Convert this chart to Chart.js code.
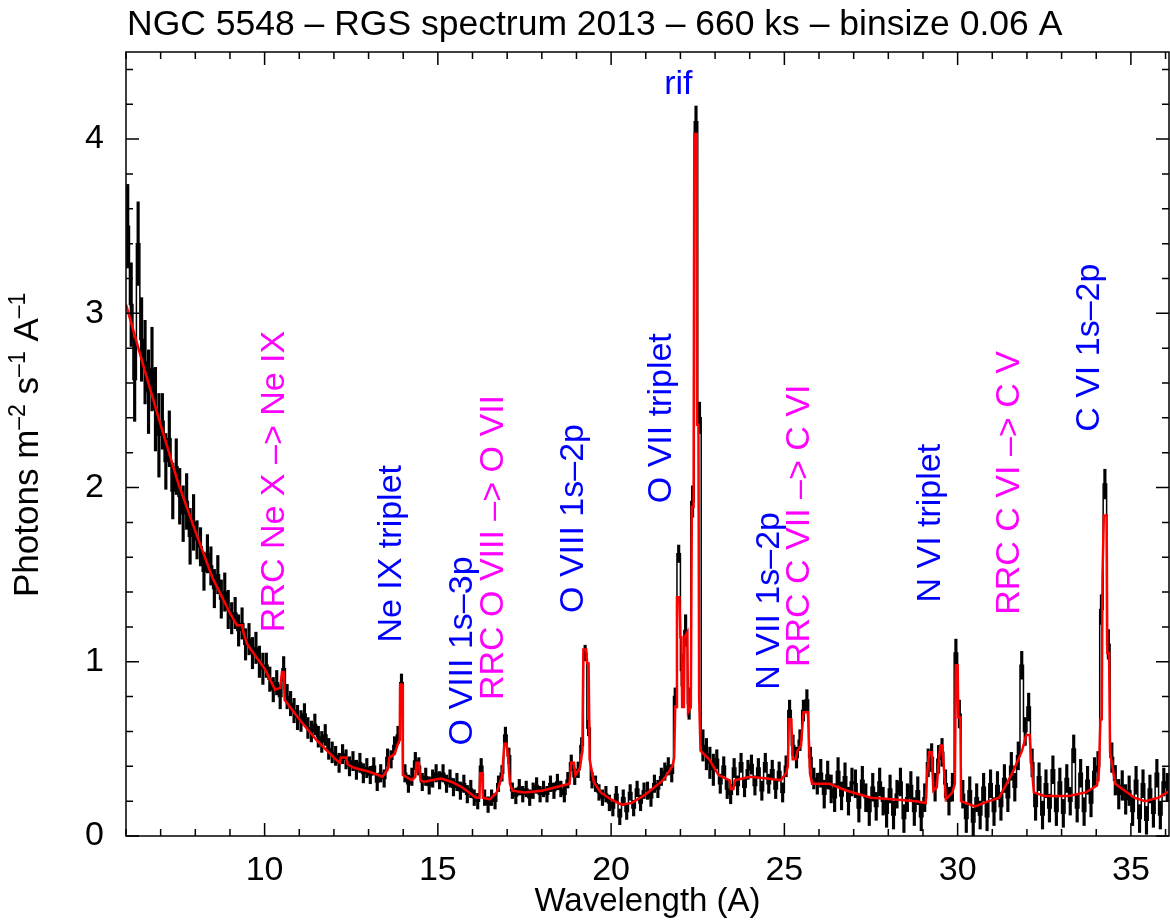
<!DOCTYPE html>
<html>
<head>
<meta charset="utf-8">
<script src="https://cdn.jsdelivr.net/npm/chart.js@4.4.1/dist/chart.umd.min.js"></script>
<style>
  html, body { margin: 0; padding: 0; background: #fff; }
</style>
</head>
<body>
<canvas id="myChart" width="1170" height="922"></canvas>
<script>
// measured spectrum, 0.1 A bins starting at 6.0 A (one row per Angstrom)
var binLo = 6.0;
var binStep = 0.1;
var flux = [
  3.50, 3.05, 2.62, 3.40, 2.85, 2.72, 2.55, 2.68, 2.45, 2.30,
  2.38, 2.15, 2.28, 1.98, 2.12, 1.95, 1.85, 1.92, 1.72, 1.80,
  1.70, 1.66, 1.52, 1.62, 1.55, 1.42, 1.50, 1.36, 1.40, 1.30,
  1.25, 1.28, 1.18, 1.22, 1.10, 1.13, 1.05, 1.08, 1.00, 0.96,
  0.98, 0.90, 0.84, 0.88, 0.80, 0.96, 0.80, 0.76, 0.72, 0.68,
  0.66, 0.70, 0.62, 0.60, 0.64, 0.57, 0.54, 0.58, 0.50, 0.48,
  0.46, 0.42, 0.47, 0.44, 0.40, 0.43, 0.38, 0.42, 0.36, 0.39,
  0.35, 0.40, 0.31, 0.36, 0.33, 0.45, 0.44, 0.52, 0.58, 0.88,
  0.36, 0.30, 0.34, 0.43, 0.40, 0.31, 0.34, 0.29, 0.33, 0.36,
  0.32, 0.36, 0.30, 0.33, 0.28, 0.31, 0.26, 0.30, 0.24, 0.27,
  0.22, 0.20, 0.40, 0.22, 0.18, 0.22, 0.20, 0.30, 0.36, 0.58,
  0.46, 0.26, 0.23, 0.28, 0.24, 0.27, 0.22, 0.26, 0.29, 0.24,
  0.27, 0.24, 0.30, 0.26, 0.31, 0.27, 0.24, 0.32, 0.42, 0.34,
  0.38, 0.52, 1.05, 0.62, 0.32, 0.30, 0.25, 0.22, 0.24, 0.19,
  0.16, 0.24, 0.11, 0.22, 0.14, 0.25, 0.16, 0.27, 0.19, 0.26,
  0.26, 0.22, 0.30, 0.27, 0.34, 0.37, 0.40, 0.36, 0.80, 1.62,
  0.95, 1.18, 0.76, 1.92, 4.10, 2.40, 0.52, 0.47, 0.42, 0.38,
  0.44, 0.30, 0.40, 0.27, 0.24, 0.39, 0.29, 0.42, 0.28, 0.38,
  0.41, 0.29, 0.39, 0.26, 0.42, 0.30, 0.38, 0.27, 0.37, 0.25,
  0.40, 0.72, 0.52, 0.45, 0.55, 0.72, 0.78, 0.45, 0.33, 0.30,
  0.36, 0.24, 0.35, 0.27, 0.22, 0.37, 0.23, 0.34, 0.20, 0.31,
  0.30, 0.16, 0.32, 0.22, 0.14, 0.28, 0.17, 0.31, 0.20, 0.13,
  0.27, 0.12, 0.24, 0.31, 0.10, 0.22, 0.29, 0.14, 0.26, 0.11,
  0.22, 0.42, 0.45, 0.28, 0.44, 0.48, 0.30, 0.20, 0.28, 1.05,
  0.70, 0.24, 0.10, 0.26, 0.08, 0.22, 0.12, 0.28, 0.11, 0.30,
  0.14, 0.29, 0.17, 0.33, 0.22, 0.40, 0.28, 0.46, 0.98, 0.60,
  0.74, 0.42, 0.17, 0.34, 0.12, 0.30, 0.16, 0.38, 0.14, 0.31,
  0.13, 0.33, 0.20, 0.50, 0.16, 0.36, 0.14, 0.32, 0.19, 0.37,
  0.40, 1.30, 2.02, 1.10, 0.45, 0.32, 0.24, 0.29, 0.21, 0.26,
  0.14, 0.32, 0.10, 0.30, 0.09, 0.27, 0.13, 0.36, 0.12, 0.31,
  0.28
];
// error bar half size for each 1 A row
var fluxErr = [0.24, 0.16, 0.11, 0.09, 0.07, 0.06, 0.055, 0.05, 0.05, 0.05,
               0.045, 0.045, 0.045, 0.045, 0.045, 0.05, 0.09, 0.055, 0.055, 0.06,
               0.08, 0.08, 0.08, 0.08, 0.08, 0.08, 0.08, 0.08, 0.085, 0.08, 0.08];

// fitted model (red)
var modelX = [6.0, 6.5, 7.0, 7.5, 8.0, 8.5, 9.0, 9.2, 9.35, 9.4, 9.5, 10.0, 10.3, 10.45, 10.5, 10.55, 10.58,
  11.0, 11.5, 12.0, 12.17, 12.2, 12.35, 12.4, 12.6, 13.0, 13.4, 13.55, 13.6, 13.75, 13.85, 13.9, 13.91, 13.97, 13.99,
  14.25, 14.35, 14.38, 14.45, 14.5, 14.6, 14.8, 15.1, 15.4, 15.7, 16.1, 16.2, 16.22, 16.28, 16.3, 16.5, 16.7, 16.85,
  16.92, 16.98, 17.02, 17.08, 17.15, 17.5, 18.0, 18.4, 18.8, 18.85, 18.93, 18.97, 19.1, 19.17, 19.2, 19.28, 19.31,
  19.35, 19.38, 19.5, 19.7, 20.0, 20.3, 20.6, 21.0, 21.5, 21.77, 21.82, 21.85, 21.88, 21.9, 21.97, 22.0, 22.03,
  22.05, 22.1, 22.12, 22.2, 22.22, 22.3, 22.33, 22.38, 22.4, 22.47, 22.48, 22.52, 22.54, 22.58, 22.83, 23.1, 23.42,
  23.45, 23.53, 23.57, 24.0, 24.5, 24.9, 25.05, 25.1, 25.13, 25.2, 25.24, 25.32, 25.38, 25.48, 25.55, 25.68, 25.74,
  25.8, 26.3, 26.8, 27.5, 28.2, 28.8, 29.08, 29.12, 29.18, 29.25, 29.3, 29.4, 29.44, 29.5, 29.56, 29.6, 29.66,
  29.85, 29.92, 29.95, 30.0, 30.02, 30.08, 30.1, 30.5, 30.9, 31.2, 31.28, 31.6, 31.86, 31.98, 32.08, 32.12, 32.2,
  32.5, 33.2, 33.7, 34.02, 34.08, 34.12, 34.16, 34.18, 34.22, 34.3, 34.32, 34.37, 34.4, 34.55, 35.1, 35.4, 35.8, 36.2];
var modelY = [3.05, 2.70, 2.36, 2.03, 1.75, 1.48, 1.28, 1.21, 1.21, 1.16, 1.10, 0.96, 0.84, 0.85, 0.94, 0.94, 0.78,
  0.67, 0.55, 0.45, 0.42, 0.45, 0.45, 0.41, 0.39, 0.37, 0.34, 0.38, 0.45, 0.47, 0.53, 0.55, 0.87, 0.87, 0.35,
  0.32, 0.34, 0.42, 0.42, 0.32, 0.31, 0.32, 0.33, 0.31, 0.28, 0.22, 0.22, 0.36, 0.36, 0.22, 0.21, 0.25, 0.34,
  0.53, 0.53, 0.47, 0.30, 0.26, 0.25, 0.26, 0.28, 0.30, 0.42, 0.42, 0.35, 0.39, 0.49, 1.07, 1.07, 0.99,
  0.99, 0.44, 0.31, 0.25, 0.21, 0.18, 0.19, 0.24, 0.32, 0.40, 0.45, 0.74, 0.74, 1.37, 1.37, 1.14, 1.14,
  0.74, 0.74, 1.14, 1.17, 0.71, 0.74, 1.89, 1.89, 4.03, 4.03, 2.36, 2.36, 0.80, 0.49, 0.44, 0.35, 0.32,
  0.27, 0.27, 0.32, 0.34, 0.33, 0.32, 0.36, 0.40, 0.67, 0.67, 0.44, 0.44, 0.49, 0.52, 0.71, 0.71, 0.36,
  0.30, 0.30, 0.26, 0.22, 0.21, 0.20, 0.19, 0.36, 0.48, 0.48, 0.26, 0.28, 0.40, 0.52, 0.52, 0.40, 0.21,
  0.25, 0.30, 0.98, 0.98, 0.68, 0.68, 0.20, 0.17, 0.20, 0.22, 0.25, 0.37, 0.49, 0.58, 0.58, 0.44, 0.25,
  0.23, 0.23, 0.25, 0.29, 0.38, 0.67, 0.67, 1.49, 1.84, 1.84, 1.05, 1.05, 0.48, 0.30, 0.22, 0.20, 0.22, 0.27];

var xLabels = [10, 15, 20, 25, 30, 35];
var yLabels = [0, 1, 2, 3, 4];

// line identifications
var lineText = ['RRC Ne X \u2013> Ne IX', 'Ne IX triplet', 'O VIII 1s\u20133p', 'RRC O VIII \u2013> O VII',
  'O VIII 1s\u20132p', 'O VII triplet', 'N VII 1s\u20132p', 'RRC C VII \u2013> C VI', 'N VI triplet',
  'RRC C VI \u2013> C V', 'C VI 1s\u20132p'];
var lineWave = [10.2, 13.6, 15.63, 16.53, 18.84, 21.39, 24.51, 25.35, 29.14, 31.42, 33.72];
var lineFlux = [1.17, 1.11, 0.52, 0.78, 1.28, 1.91, 0.84, 0.97, 1.34, 1.27, 2.32];
var lineColor = ['#ff00ff', '#0000ff', '#0000ff', '#ff00ff', '#0000ff', '#0000ff', '#0000ff', '#ff00ff',
  '#0000ff', '#ff00ff', '#0000ff'];

var FONT = 'Liberation Sans, Arial, Helvetica, sans-serif';

var points = [];
var errBars = [];
for (var i = 0; i < flux.length; i++) {
  var wl = Math.round((binLo + binStep / 2 + i * binStep) * 100) / 100;
  var e = fluxErr[Math.floor(i / 10)];
  points.push({ x: wl, y: flux[i] });
  errBars.push({ x: wl, y: [flux[i] - e, flux[i] + e] });
}
var model = modelX.map(function (x, i) { return { x: x, y: modelY[i] }; });

function isWhole(v) { return Math.abs(v - Math.round(v)) < 1e-6; }

var decorations = {
  id: 'decorations',
  afterDraw: function (chart) {
    var ctx = chart.ctx, a = chart.chartArea;
    var xs = chart.scales.x, ys = chart.scales.y;
    ctx.save();
    // frame
    ctx.strokeStyle = '#000';
    ctx.lineWidth = 1.5;
    ctx.strokeRect(a.left, a.top, a.right - a.left, a.bottom - a.top);
    // inward ticks on all four sides
    ctx.beginPath();
    xs.ticks.forEach(function (t) {
      var px = xs.getPixelForValue(t.value);
      var len = t.value % 5 === 0 ? 13 : 7;
      ctx.moveTo(px, a.bottom); ctx.lineTo(px, a.bottom - len);
      ctx.moveTo(px, a.top); ctx.lineTo(px, a.top + len);
    });
    ys.ticks.forEach(function (t) {
      var py = ys.getPixelForValue(t.value);
      var len = isWhole(t.value) ? 13 : 7;
      ctx.moveTo(a.left, py); ctx.lineTo(a.left + len, py);
      ctx.moveTo(a.right, py); ctx.lineTo(a.right - len, py);
    });
    ctx.stroke();

    // title
    ctx.fillStyle = '#000';
    ctx.font = '35.5px ' + FONT;
    ctx.textAlign = 'left';
    ctx.textBaseline = 'alphabetic';
    ctx.fillText('NGC 5548 \u2013 RGS spectrum 2013 \u2013 660 ks \u2013 binsize 0.06 A', 127, 35);

    // y axis title with superscripts
    var parts = [['Photons m', 0], ['\u20132', 1], [' s', 0], ['\u20131', 1], [' A', 0], ['\u20131', 1]];
    ctx.save();
    ctx.translate(38, 597);
    ctx.rotate(-Math.PI / 2);
    var cx = 0;
    parts.forEach(function (p) {
      ctx.font = (p[1] ? '23px ' : '35px ') + FONT;
      ctx.fillText(p[0], cx, p[1] ? -13 : 0);
      cx += ctx.measureText(p[0]).width;
    });
    ctx.restore();

    // line labels
    ctx.font = '34px ' + FONT;
    lineText.forEach(function (txt, k) {
      var px = xs.getPixelForValue(lineWave[k]);
      var py = ys.getPixelForValue(lineFlux[k]);
      ctx.save();
      ctx.fillStyle = lineColor[k];
      ctx.translate(px + 12, py);
      ctx.rotate(-Math.PI / 2);
      ctx.fillText(txt, 0, 0);
      ctx.restore();
    });
    ctx.fillStyle = '#0000ff';
    ctx.textAlign = 'center';
    ctx.fillText('rif', xs.getPixelForValue(21.94), ys.getPixelForValue(4.26));
    ctx.restore();
  }
};

var ctx = document.getElementById('myChart').getContext('2d');
var chart = new Chart(ctx, {
  type: 'line',
  data: {
    datasets: [
      {
        type: 'line',
        label: 'model',
        data: model,
        borderColor: '#ff0000',
        borderWidth: 2.5,
        pointRadius: 0,
        tension: 0,
        order: 0
      },
      {
        type: 'line',
        label: 'data',
        data: points,
        borderColor: '#000',
        borderWidth: 1.5,
        stepped: 'middle',
        pointRadius: 0,
        order: 1
      },
      {
        type: 'bar',
        label: 'errors',
        data: errBars,
        backgroundColor: '#000',
        barThickness: 2.5,
        order: 2
      }
    ]
  },
  options: {
    responsive: false,
    animation: false,
    devicePixelRatio: 1,
    layout: { padding: { top: 52, right: 1, left: 0, bottom: 0 } },
    plugins: { legend: { display: false }, tooltip: { enabled: false } },
    scales: {
      x: {
        type: 'linear',
        offset: false,
        min: 6,
        max: 36.1,
        grid: { display: false, drawTicks: false, offset: false },
        border: { display: false },
        afterFit: function (s) { s.height = 86; s.paddingLeft = 0; s.paddingRight = 0; },
        ticks: {
          stepSize: 1,
          includeBounds: false,
          autoSkip: false,
          maxRotation: 0,
          padding: 14,
          color: '#000',
          font: { family: FONT, size: 34 },
          callback: function (v) { return xLabels.indexOf(v) >= 0 ? String(v) : ''; }
        },
        title: {
          display: true,
          text: 'Wavelength (A)',
          color: '#000',
          font: { family: FONT, size: 33 },
          padding: { top: 0, bottom: 0 }
        }
      },
      y: {
        type: 'linear',
        min: 0,
        max: 4.5,
        grid: { display: false, drawTicks: false },
        border: { display: false },
        afterFit: function (s) { s.width = 126; s.paddingTop = 0; s.paddingBottom = 0; },
        ticks: {
          stepSize: 0.2,
          includeBounds: false,
          autoSkip: false,
          padding: 22,
          color: '#000',
          font: { family: FONT, size: 34 },
          callback: function (v) {
            for (var k = 0; k < yLabels.length; k++) {
              if (Math.abs(v - yLabels[k]) < 1e-6) return String(yLabels[k]);
            }
            return '';
          }
        }
      }
    }
  },
  plugins: [decorations]
});
</script>
</body>
</html>
